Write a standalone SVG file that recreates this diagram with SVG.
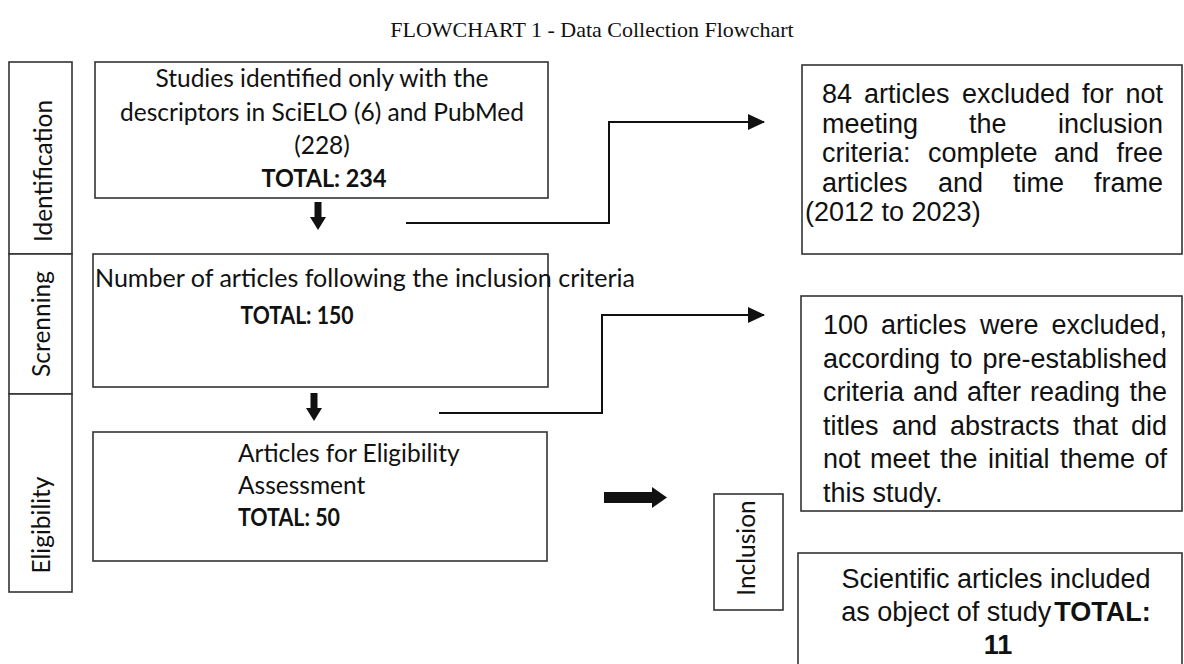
<svg xmlns="http://www.w3.org/2000/svg" width="1184" height="664" viewBox="0 0 1184 664">
<style>
.box{fill:#fff;stroke:#333;stroke-width:1.6}
.cal{font-family:Lato,"Open Sans",sans-serif;font-size:24.5px;fill:#111}
.calb{font-family:Lato,"Open Sans",sans-serif;font-size:24.5px;font-weight:bold;fill:#111}
.ar{font-family:"Liberation Sans",Arial,sans-serif;font-size:27px;fill:#111}
.arb{font-weight:bold}
.ttl{font-family:"Liberation Serif","Times New Roman",serif;font-size:22px;fill:#111}
.conn{fill:none;stroke:#111;stroke-width:2}
.blk{fill:#111}
</style>
<defs>
<marker id="ah" markerUnits="userSpaceOnUse" markerWidth="18" markerHeight="16" refX="16" refY="8" orient="auto">
<path d="M0,0 L17,8 L0,16 Z" fill="#111"/>
</marker>
</defs>
<rect width="1184" height="664" fill="#fff"/>
<text class="ttl" x="592" y="37" text-anchor="middle">FLOWCHART 1 - Data Collection Flowchart</text>

<g id="label-identification">
<rect class="box" x="9" y="62" width="63" height="192"/>
<text class="cal" transform="translate(52,171) rotate(-90)" text-anchor="middle">Identification</text>
</g>
<g id="label-screening">
<rect class="box" x="9" y="254" width="63" height="140"/>
<text class="cal" transform="translate(50,324) rotate(-90)" text-anchor="middle">Screnning</text>
</g>
<g id="label-eligibility">
<rect class="box" x="9" y="394" width="63" height="198"/>
<text class="cal" transform="translate(50,525) rotate(-90)" text-anchor="middle">Eligibility</text>
</g>
<g id="label-inclusion">
<rect class="box" x="714" y="494" width="69" height="116"/>
<text class="cal" transform="translate(755,548) rotate(-90)" text-anchor="middle">Inclusion</text>
</g>

<g id="node-identified">
<rect class="box" x="95" y="62" width="453" height="136"/>
<text class="cal" x="322" y="87" text-anchor="middle">Studies identified only with the</text>
<text class="cal" x="322" y="120.5" text-anchor="middle">descriptors in SciELO (6) and PubMed</text>
<text class="cal" x="322" y="154" text-anchor="middle">(228)</text>
<text class="calb" x="324" y="187" text-anchor="middle" textLength="125" lengthAdjust="spacingAndGlyphs">TOTAL: 234</text>
</g>

<g id="node-screened">
<rect class="box" x="93" y="254" width="455" height="133"/>
<text class="cal" x="95" y="287" textLength="540" lengthAdjust="spacingAndGlyphs">Number of articles following the inclusion criteria</text>
<text class="calb" x="297" y="324" text-anchor="middle" textLength="113" lengthAdjust="spacingAndGlyphs">TOTAL: 150</text>
</g>

<g id="node-eligibility">
<rect class="box" x="93" y="432" width="454" height="129"/>
<text class="cal" x="238" y="462">Articles for Eligibility</text>
<text class="cal" x="238" y="494">Assessment</text>
<text class="calb" x="238" y="526" textLength="102" lengthAdjust="spacingAndGlyphs">TOTAL: 50</text>
</g>

<g id="node-excluded-1">
<rect class="box" x="802" y="65" width="380" height="189"/>
<text class="ar" y="103"><tspan x="822">84</tspan><tspan x="864">articles</tspan><tspan x="962">excluded</tspan><tspan x="1082">for</tspan><tspan x="1163" text-anchor="end">not</tspan></text>
<text class="ar" y="132.5"><tspan x="822">meeting</tspan><tspan x="969">the</tspan><tspan x="1163" text-anchor="end">inclusion</tspan></text>
<text class="ar" y="162"><tspan x="822">criteria:</tspan><tspan x="928">complete</tspan><tspan x="1054">and</tspan><tspan x="1163" text-anchor="end">free</tspan></text>
<text class="ar" y="191.5"><tspan x="822">articles</tspan><tspan x="938">and</tspan><tspan x="1013">time</tspan><tspan x="1163" text-anchor="end">frame</tspan></text>
<text class="ar" x="805" y="221">(2012 to 2023)</text>
</g>

<g id="node-excluded-2">
<rect class="box" x="801" y="296" width="381" height="215"/>
<text class="ar" y="334"><tspan x="823">100</tspan><tspan x="881">articles</tspan><tspan x="980">were</tspan><tspan x="1167" text-anchor="end">excluded,</tspan></text>
<text class="ar" y="367.5"><tspan x="823">according</tspan><tspan x="950">to</tspan><tspan x="1167" text-anchor="end">pre-established</tspan></text>
<text class="ar" y="401"><tspan x="823">criteria</tspan><tspan x="913">and</tspan><tspan x="967">after</tspan><tspan x="1030">reading</tspan><tspan x="1167" text-anchor="end">the</tspan></text>
<text class="ar" y="434.5"><tspan x="823">titles</tspan><tspan x="892">and</tspan><tspan x="950">abstracts</tspan><tspan x="1073">that</tspan><tspan x="1167" text-anchor="end">did</tspan></text>
<text class="ar" y="468"><tspan x="823">not</tspan><tspan x="870">meet</tspan><tspan x="940">the</tspan><tspan x="988">initial</tspan><tspan x="1060">theme</tspan><tspan x="1167" text-anchor="end">of</tspan></text>
<text class="ar" x="823" y="502">this study.</text>
</g>

<g id="node-included">
<rect class="box" x="798" y="553" width="384" height="120"/>
<text class="ar" x="996" y="588" text-anchor="middle">Scientific articles included</text>
<text class="ar" x="996" y="621" text-anchor="middle">as object of study<tspan class="arb" dx="3">TOTAL:</tspan></text>
<text class="ar arb" x="998" y="654" text-anchor="middle">11</text>
</g>

<g id="connectors">
<path class="conn" d="M406,223 H609 V122 H764" marker-end="url(#ah)"/>
<path class="conn" d="M439,413 H602 V315 H764" marker-end="url(#ah)"/>
<polygon class="blk" points="314.5,202 321.5,202 321.5,217 326,217 318,230 310,217 314.5,217"/>
<polygon class="blk" points="310.5,393 317.5,393 317.5,408 322,408 314,421 306,408 310.5,408"/>
<polygon class="blk" points="604,492 652,492 652,487 667,497.5 652,508 652,503 604,503"/>
</g>
</svg>
